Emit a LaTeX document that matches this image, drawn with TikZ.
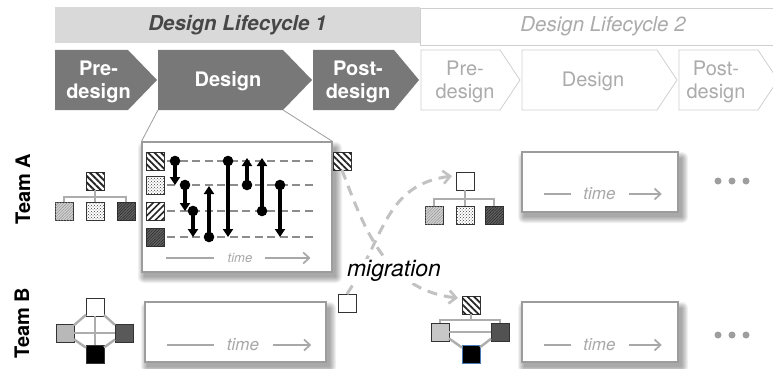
\documentclass[tikz,border=0pt]{standalone}
\usepackage{fontspec}
\setmainfont{TeX Gyre Heros}
\usetikzlibrary{arrows.meta,patterns,patterns.meta,calc}
\definecolor{chevfill}{HTML}{787878}
\definecolor{hdrfill}{HTML}{D9D9D9}
\definecolor{hdrtext}{HTML}{474747}
\definecolor{ltline}{HTML}{CFCFCF}
\definecolor{lttext}{HTML}{ABABAB}
\definecolor{boxline}{HTML}{9C9C9C}
\definecolor{timecol}{HTML}{A8A8A8}
\definecolor{lanecol}{HTML}{8C8C8C}
\definecolor{migcol}{HTML}{C2C2C2}
\definecolor{conncol}{HTML}{ADADAD}
\definecolor{bluebd}{HTML}{4A7AB5}
\newcommand\boxshadow[4]{%
  \foreach \e in {0,...,6}{%
    \fill[black,opacity=0.055,rounded corners=\e pt] ({#1+2-\e},{#2+6-\e}) rectangle ({#3+4+\e},{#4+5+\e});}}
\newcommand\evtarrow[3]{%
  \fill (#1,#2) circle (5.3);
  \draw[evt] (#1,#2) -- (#1,#3);}
\begin{document}
\begin{tikzpicture}[x=1pt,y=-1pt,
  sq/.style={draw=black!80, line width=0.7pt, minimum size=18pt, inner sep=0pt, outer sep=0pt, fill=white},
  stripes/.style={postaction={pattern={Lines[angle=-45,distance=4.6pt,line width=1.8pt]}, pattern color=black!85}},
  slashes/.style={postaction={pattern={Lines[angle=45,distance=4.6pt,line width=1.6pt]}, pattern color=black!85}},
  wavy/.style={postaction={pattern=crosshatch dots, pattern color=black!75}},
  darkhatch/.style={fill=black!62, postaction={pattern={Lines[angle=45,distance=2pt,line width=0.5pt]}, pattern color=black!85}},
  lighthatch/.style={fill=black!18, postaction={pattern={Lines[angle=45,distance=2pt,line width=0.4pt]}, pattern color=black!45}},
  chevtext/.style={text=white, font=\bfseries\fontsize{20}{23}\selectfont, align=center, inner sep=0pt},
  chevtext2/.style={text=lttext, font=\fontsize{20}{23}\selectfont, align=center, inner sep=0pt},
  team/.style={rotate=90, font=\bfseries\fontsize{20}{24}\selectfont, inner sep=0pt},
  tbox/.style={draw=boxline, line width=1.1pt, fill=white, inner sep=0pt},
  tline/.style={draw=timecol, line width=1.7pt},
  tarrow/.style={draw=timecol, line width=1.7pt, -{Straight Barb[length=6pt,width=11pt,line width=1.7pt]}},
  ttext/.style={text=timecol, font=\itshape\fontsize{17}{20}\selectfont, inner sep=0pt},
  ttextsmall/.style={text=timecol, font=\itshape\fontsize{13}{15}\selectfont, inner sep=0pt},
  lane/.style={draw=lanecol, line width=2.6pt, dash pattern=on 8pt off 4.5pt},
  evt/.style={line width=3.2pt, -{Triangle[length=8pt,width=10pt]}},
  conn/.style={draw=conncol, line width=2.4pt},
  migr/.style={draw=migcol, line width=3pt, dash pattern=on 10pt off 7pt, -{Straight Barb[length=7pt,width=13pt,line width=2.6pt]}},
  zoomline/.style={draw=boxline, line width=0.8pt},
  gdot/.style={circle, fill=black!38, minimum size=7pt, inner sep=0pt}
]
\useasboundingbox (0,0) rectangle (773,369);
\fill[white] (0,0) rectangle (773,369);

% ---------- header bands ----------
\node[fill=hdrfill, minimum width=365pt, minimum height=36pt, inner sep=0pt,
      text=hdrtext, font=\bfseries\itshape\fontsize{20.5}{24}\selectfont] (hdr1) at (237.5,25) {Design Lifecycle 1};
\node[draw=ltline, line width=0.8pt, fill=white, minimum width=366pt, minimum height=37pt, inner sep=0pt,
      text=lttext, font=\itshape\fontsize{20.5}{24}\selectfont] (hdr2) at (603,26.5) {Design Lifecycle 2};

% ---------- chevrons lifecycle 1 ----------
\fill[chevfill] (55,50) -- (128,50) -- (157,80) -- (128,110) -- (55,110) -- cycle;
\fill[chevfill] (158,50) -- (283,50) -- (312,80) -- (283,110) -- (158,110) -- cycle;
\fill[chevfill] (313,50) -- (394,50) -- (419,80) -- (394,110) -- (313,110) -- cycle;
\node[chevtext] (pre1) at (98.5,82) {Pre-\\design};
\node[chevtext] (des1) at (228,81) {Design};
\node[chevtext] (post1) at (358,82) {Post-\\design};

% ---------- chevrons lifecycle 2 ----------
\draw[ltline, line width=0.8pt, fill=white] (421,50) -- (500,50) -- (520,80) -- (500,110) -- (421,110) -- cycle;
\draw[ltline, line width=0.8pt, fill=white] (522,50) -- (657,50) -- (677,80) -- (657,110) -- (522,110) -- cycle;
\draw[ltline, line width=0.8pt, fill=white] (679,50) -- (758,50) -- (778,80) -- (758,110) -- (679,110) -- cycle;
\node[chevtext2] (pre2) at (465,82) {Pre-\\design};
\node[chevtext2] (des2) at (593,81) {Design};
\node[chevtext2] (post2) at (716,82) {Post-\\design};

% ---------- team labels ----------
\node[team] (teamA) at (23,189) {Team A};
\node[team] (teamB) at (22,323) {Team B};

% ---------- zoomed design box (Team A, lifecycle 1) ----------
\coordinate (dBL) at (158,110);
\coordinate (dBR) at (283,110);
\boxshadow{142}{142}{332}{272}
\node[tbox, minimum width=190pt, minimum height=130pt] (boxA) at (237,207) {};
\draw[zoomline] (dBL) -- (boxA.north west);
\draw[zoomline] (dBR) -- (boxA.north east);

\foreach \y in {161,185,211,237} \draw[lane] (167,\y) -- (313,\y);
\node[sq, stripes] (z1) at (155,161) {};
\node[sq, wavy] (z2) at (155,185) {};
\node[sq, slashes] (z3) at (155,211) {};
\node[sq, darkhatch] (z4) at (155,237) {};

\evtarrow{175}{161}{185}
\evtarrow{185}{185}{211}
\evtarrow{193}{211}{237}
\evtarrow{209}{237}{186}
\evtarrow{228}{161}{237}
\evtarrow{247}{185}{158}
\evtarrow{262}{211}{158}
\evtarrow{280}{185}{237}

\node[ttextsmall] (timeZ) at (240,258) {time};
\draw[tline] ([xshift=-14pt]timeZ.west) -- ++(-48,0);
\draw[tarrow] ([xshift=13pt]timeZ.east) -- ++(45,0);

% ---------- Team A hierarchy (lifecycle 1) ----------
\node[sq, stripes] (aT) at (95,181) {};
\node[sq, lighthatch] (aL) at (64,211) {};
\node[sq, wavy] (aM) at (95,211) {};
\node[sq, darkhatch] (aR) at (126,211) {};
\coordinate (aBar) at (95,197);
\draw[conn] (aT.south) -- (aBar) -- (aM.north);
\draw[conn] (aL.north) |- (aBar) -| (aR.north);

% ---------- Team B hierarchy (lifecycle 1) ----------
\node[sq] (bT) at (95,307) {};
\node[sq, fill=black!28] (bL) at (65,333) {};
\node[sq, fill=black!65] (bR) at (124,333) {};
\node[sq, fill=black] (bB) at (95,354) {};
\draw[conn] (bT) -- (bL);
\draw[conn] (bT) -- (bR);
\draw[conn] (bT) -- (bB);
\draw[conn] (bL) -- (bR);
\draw[conn] (bL) -- (bB);
\draw[conn] (bR) -- (bB);

% ---------- Team B box (lifecycle 1) ----------
\boxshadow{145}{302}{326}{362}
\node[tbox, minimum width=181pt, minimum height=60pt] (boxB) at (235.5,332) {};
\node[ttext] (timeB) at (243,345) {time};
\draw[tline] ([xshift=-13pt]timeB.west) -- ++(-47,0);
\draw[tarrow] ([xshift=14pt]timeB.east) -- ++(38,0);

% ---------- migrating members ----------
\node[sq, stripes] (mA) at (342,161) {};
\node[sq] (mB) at (347,303) {};

% ---------- Team A hierarchy (lifecycle 2) ----------
\node[sq] (cT) at (465,181) {};
\node[sq, lighthatch] (cL) at (434,215) {};
\node[sq, wavy] (cM) at (465,215) {};
\node[sq, darkhatch] (cR) at (494,215) {};
\coordinate (cBar) at (465,199);
\draw[conn] (cT.south) -- (cBar) -- (cM.north);
\draw[conn] (cL.north) |- (cBar) -| (cR.north);

% ---------- Team B hierarchy (lifecycle 2) ----------
\node[sq, stripes] (eT) at (471,305) {};
\node[sq, fill=black!22] (eL) at (440,332) {};
\node[sq, fill=black!68] (eR) at (500,332) {};
\node[sq, fill=black, draw=bluebd, line width=0.9pt] (eB) at (471,354) {};
\coordinate (eBar) at (471,320);
\draw[conn] (eT.south) -- (eBar);
\draw[conn] (eL.north) |- (eBar) -| (eR.north);
\draw[conn] (eL) -- (eR);
\draw[conn] (eL) -- (eB);
\draw[conn] (eR) -- (eB);

% ---------- lifecycle 2 boxes ----------
\boxshadow{522}{152}{678}{212}
\node[tbox, minimum width=156pt, minimum height=60pt] (boxA2) at (600,182) {};
\node[ttext] (timeA2) at (599.5,194) {time};
\draw[tline] ([xshift=-12pt]timeA2.west) -- ++(-27,0);
\draw[tarrow] ([xshift=13pt]timeA2.east) -- ++(33,0);

\boxshadow{522}{302}{678}{362}
\node[tbox, minimum width=156pt, minimum height=60pt] (boxB2) at (600,332) {};
\node[ttext] (timeB2) at (599.5,345) {time};
\draw[tline] ([xshift=-12pt]timeB2.west) -- ++(-27,0);
\draw[tarrow] ([xshift=13pt]timeB2.east) -- ++(33,0);

% ---------- continuation dots ----------
\node[gdot] (dA1) at (718,181) {};
\node[gdot] (dA2) at (732,181) {};
\node[gdot] (dA3) at (746,181) {};
\node[gdot] (dB1) at (718,335) {};
\node[gdot] (dB2) at (732,335) {};
\node[gdot] (dB3) at (746,335) {};

% ---------- migration ----------
\draw[migr] (mA.south) .. controls (364,228) and (386,290) .. ([xshift=-4pt,yshift=-2pt]eT.north west);
\draw[migr] (mB.north) .. controls (385,236) and (385,185) .. ([xshift=-4pt,yshift=5pt]cT.west);
\node[fill=white, inner sep=1pt, font=\itshape\fontsize{23}{26}\selectfont] (mig) at (394,271) {migration};
\end{tikzpicture}
\end{document}
